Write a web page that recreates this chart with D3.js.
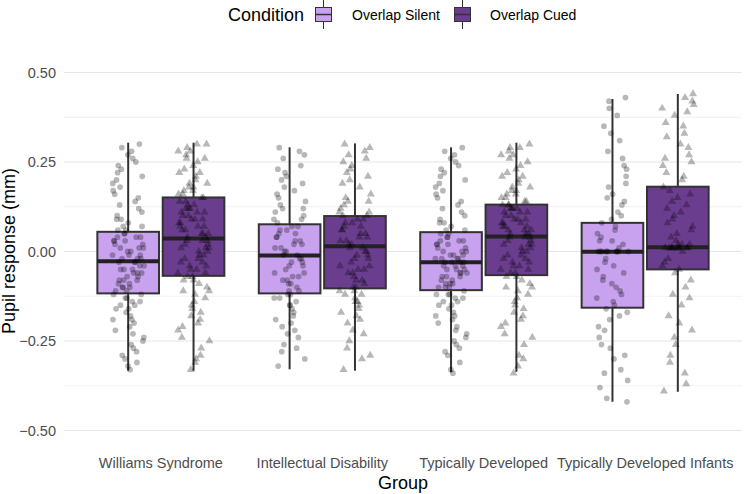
<!DOCTYPE html>
<html lang="en">
<head>
<meta charset="utf-8">
<script src="https://d3js.org/d3.v7.min.js"></script>
<style>
  body { margin: 0; background: #fff; }
  text { font-family: "Liberation Sans", Arial, sans-serif; }
</style>
</head>
<body>
<script>
// groups and conditions
var groups = ["Williams Syndrome", "Intellectual Disability", "Typically Developed", "Typically Developed Infants"];
var conditions = ["Overlap Silent", "Overlap Cued"];
var yTicks = [-0.5, -0.25, 0, 0.25, 0.5];
var yMinor = [-0.375, -0.125, 0.125, 0.375];

// box summaries (per group)
var silentLow    = [-0.333, -0.329, -0.337, -0.420];
var silentQ1     = [-0.117, -0.117, -0.108, -0.157];
var silentMedian = [-0.027, -0.011, -0.030, -0.001];
var silentQ3     = [0.055, 0.076, 0.054, 0.080];
var silentHigh   = [0.304, 0.291, 0.291, 0.426];

var cuedLow    = [-0.333, -0.333, -0.336, -0.392];
var cuedQ1     = [-0.068, -0.103, -0.066, -0.050];
var cuedMedian = [0.036, 0.015, 0.042, 0.012];
var cuedQ3     = [0.151, 0.099, 0.131, 0.181];
var cuedHigh   = [0.304, 0.302, 0.304, 0.440];

// individual observations (estimated)
var wsSilent = [
  -0.02, 0.11, -0.21, 0.04, -0.08, -0.30, 0.19, -0.05, 0.01, -0.14,
  0.27, -0.11, -0.03, 0.07, -0.25, 0.00, -0.09, 0.15, -0.17, 0.03,
  -0.06, 0.23, -0.12, -0.01, 0.09, -0.28, 0.05, -0.04, -0.19, 0.13,
  0.30, -0.07, 0.02, -0.15, -0.10, 0.21, -0.33, 0.06, -0.02, -0.13,
  0.17, -0.23, -0.05, 0.04, 0.08, -0.16, 0.25, -0.08, 0.01, -0.26,
  -0.03, 0.12, -0.11, 0.03, -0.20, 0.29, -0.06, -0.09, 0.10, -0.31,
  0.05, -0.01, -0.14, 0.18, -0.04, 0.00, -0.22, 0.14, -0.10, 0.02,
  -0.18, 0.24, -0.07, 0.06, -0.12, -0.27, 0.09, -0.02, -0.16, 0.20,
  0.04, -0.05, -0.24, 0.28, -0.08, 0.01, -0.13, 0.16, -0.03, -0.29,
  0.07, -0.10, 0.22, -0.06, 0.03, -0.19, 0.26, -0.15, -0.01, -0.32
];
var wsCued = [
  0.04, 0.19, -0.12, 0.10, -0.03, 0.28, -0.22, 0.07, 0.14, -0.06,
  0.24, 0.01, -0.17, 0.12, 0.05, -0.30, 0.17, -0.01, 0.09, 0.22,
  -0.09, 0.03, 0.30, -0.14, 0.06, 0.15, -0.04, -0.25, 0.11, 0.02,
  0.26, -0.07, 0.08, -0.19, 0.13, 0.00, 0.20, -0.11, 0.05, -0.33,
  0.16, -0.02, 0.27, 0.04, -0.08, 0.11, -0.27, 0.18, 0.01, -0.05,
  0.23, 0.07, -0.15, 0.14, -0.01, 0.29, -0.10, 0.09, -0.21, 0.03,
  0.12, -0.06, 0.25, 0.06, -0.13, 0.17, -0.03, -0.29, 0.10, 0.02,
  0.21, -0.08, 0.15, -0.18, 0.08, 0.00, 0.26, -0.04, 0.13, -0.24,
  0.05, 0.19, -0.11, 0.30, -0.02, 0.11, -0.16, 0.07, 0.22, -0.07,
  0.03, -0.31, 0.16, 0.09, -0.05, 0.28, -0.20, 0.12, 0.01, 0.18
];
var idSilent = [
  -0.01, 0.12, -0.20, 0.05, -0.07, 0.21, -0.13, 0.02, -0.28, 0.09,
  -0.04, 0.16, -0.10, 0.00, 0.27, -0.16, 0.06, -0.02, -0.23, 0.11,
  0.03, -0.08, 0.19, -0.12, -0.32, 0.07, -0.05, 0.14, -0.18, 0.01,
  0.24, -0.09, 0.04, -0.14, -0.26, 0.10, -0.03, 0.29, -0.11, 0.06,
  -0.06, 0.17, -0.21, 0.02, -0.15, 0.08, -0.01, 0.22, -0.30, -0.07,
  0.13, 0.03, -0.12, -0.19, 0.05, 0.26, -0.04, -0.09, 0.15, -0.24,
  0.00, 0.09, -0.17, 0.20, -0.02, -0.11, 0.04, -0.27, 0.18, -0.06,
  0.07, -0.13, 0.28, -0.08, 0.01, -0.22, 0.12, -0.03, -0.15, 0.23
];
var idCued = [
  0.02, 0.14, -0.18, 0.07, -0.05, 0.24, -0.11, 0.04, -0.27, 0.10,
  -0.02, 0.19, -0.08, 0.01, 0.29, -0.14, 0.08, 0.00, -0.22, 0.12,
  0.05, -0.06, 0.21, -0.10, -0.33, 0.09, -0.03, 0.16, -0.16, 0.03,
  0.26, -0.07, 0.06, -0.12, -0.25, 0.11, -0.01, 0.30, -0.09, 0.08,
  -0.04, 0.18, -0.20, 0.04, -0.13, 0.10, 0.01, 0.23, -0.29, -0.05,
  0.15, 0.05, -0.10, -0.17, 0.07, 0.27, -0.02, -0.08, 0.13, -0.23,
  0.02, 0.11, -0.15, 0.22, 0.00, -0.11, 0.06, -0.30, 0.20, -0.04,
  0.09, -0.12, 0.28, -0.06, 0.03, -0.19, 0.14, -0.01, -0.14, 0.25
];
var tdSilent = [
  -0.03, 0.10, -0.19, 0.03, -0.07, -0.29, 0.18, -0.04, 0.00, -0.13,
  0.26, -0.10, -0.02, 0.06, -0.24, -0.01, -0.08, 0.14, -0.16, 0.02,
  -0.05, 0.22, -0.11, -0.03, 0.08, -0.27, 0.04, -0.06, -0.18, 0.12,
  0.29, -0.09, 0.01, -0.14, -0.10, 0.20, -0.34, 0.05, -0.03, -0.12,
  0.16, -0.22, -0.04, 0.03, 0.07, -0.15, 0.24, -0.07, 0.00, -0.25,
  -0.02, 0.11, -0.10, 0.02, -0.21, 0.28, -0.05, -0.08, 0.09, -0.31,
  0.04, -0.02, -0.13, 0.17, -0.04, -0.01, -0.20, 0.13, -0.09, 0.01,
  -0.17, 0.23, -0.06, 0.05, -0.12, -0.26, 0.08, -0.03, -0.15, 0.19,
  0.03, -0.05, -0.23, 0.27, -0.07, 0.00, -0.12, 0.15, -0.02, -0.28,
  0.06, -0.09, 0.21, -0.06, 0.02, -0.18, 0.25, -0.14, -0.01, -0.33
];
var tdCued = [
  0.05, 0.18, -0.11, 0.10, -0.02, 0.27, -0.21, 0.08, 0.13, -0.05,
  0.23, 0.02, -0.16, 0.12, 0.06, -0.29, 0.16, 0.00, 0.09, 0.21,
  -0.08, 0.04, 0.30, -0.13, 0.07, 0.14, -0.03, -0.24, 0.11, 0.03,
  0.25, -0.06, 0.08, -0.18, 0.12, 0.01, 0.19, -0.10, 0.05, -0.34,
  0.15, -0.01, 0.28, 0.05, -0.07, 0.11, -0.26, 0.17, 0.02, -0.04,
  0.22, 0.07, -0.14, 0.13, 0.00, 0.29, -0.09, 0.09, -0.20, 0.04,
  0.12, -0.05, 0.24, 0.06, -0.12, 0.16, -0.02, -0.30, 0.10, 0.03,
  0.20, -0.07, 0.14, -0.17, 0.08, 0.01, 0.26, -0.03, 0.12, -0.23,
  0.06, 0.18, -0.10, 0.29, -0.01, 0.11, -0.15, 0.07, 0.21, -0.06,
  0.04, -0.32, 0.15, 0.09, -0.04, 0.27, -0.19, 0.13, 0.02, 0.17
];
var tdiSilent = [
  0.00, 0.21, -0.30, 0.08, -0.12, 0.40, -0.05, 0.00, -0.22, 0.14,
  0.03, -0.38, 0.31, 0.00, -0.17, 0.06, -0.08, 0.26, -0.27, 0.00,
  0.11, -0.02, 0.43, -0.14, 0.04, -0.33, 0.18, 0.00, -0.10, 0.35,
  -0.06, 0.09, -0.24, 0.01, -0.41, 0.23, -0.15, 0.00, 0.13, -0.19,
  0.05, 0.38, -0.03, -0.29, 0.16, 0.00, -0.11, 0.28, -0.36, 0.07,
  -0.07, 0.02, 0.33, -0.21, 0.00, -0.16, 0.19, -0.04, -0.26, 0.10,
  0.42, -0.13, 0.00, -0.34, 0.24, -0.09, 0.03, -0.18, 0.15, -0.42
];
var tdiCued = [
  0.01, 0.25, -0.20, 0.12, 0.01, 0.38, -0.04, 0.20, -0.31, 0.02,
  0.15, 0.01, 0.43, -0.12, 0.07, 0.30, -0.02, 0.01, -0.26, 0.18,
  0.35, 0.04, -0.08, 0.01, 0.22, -0.37, 0.10, 0.41, -0.15, 0.01,
  0.27, 0.05, -0.03, 0.33, 0.14, -0.22, 0.01, 0.08, 0.39, -0.06,
  0.24, 0.00, -0.29, 0.16, 0.02, 0.36, -0.10, 0.01, 0.44, 0.11,
  -0.18, 0.29, 0.03, -0.39, 0.21, 0.01, 0.06, -0.05, 0.32, 0.13,
  -0.24, 0.40, 0.02, 0.17, -0.13, 0.01, 0.26, -0.34, 0.09, 0.42
];

var silentPoints = [wsSilent, idSilent, tdSilent, tdiSilent];
var cuedPoints = [wsCued, idCued, tdCued, tdiCued];

var width = 744, height = 494;
var left = 64, right = 742;
var colors = { "Overlap Silent": "#c8a2ef", "Overlap Cued": "#6b3d8f" };

var svg = d3.select("body").append("svg")
  .attr("width", width).attr("height", height);

var x = d3.scaleBand().domain(groups).range([left, right]).paddingOuter(0.1).paddingInner(0);
var sub = d3.scaleBand().domain(conditions).range([-63.5, 63.5]).paddingInner(0.057).paddingOuter(0);
var y = d3.scaleLinear().domain([-0.5, 0.5]).range([430.5, 72.5]);

// grid
svg.append("g").selectAll("line").data(yMinor).join("line")
  .attr("x1", left).attr("x2", right)
  .attr("y1", function (d) { return y(d); }).attr("y2", function (d) { return y(d); })
  .attr("stroke", "#ececec").attr("stroke-width", 0.7);
svg.append("g").selectAll("line").data(yTicks).join("line")
  .attr("x1", left).attr("x2", right)
  .attr("y1", function (d) { return y(d); }).attr("y2", function (d) { return y(d); })
  .attr("stroke", "#e6e6e6").attr("stroke-width", 1.2);

// y axis (labels only)
var yAxis = svg.append("g").attr("transform", "translate(" + (left - 5) + ",0)")
  .call(d3.axisLeft(y).tickValues(yTicks).tickSize(0).tickPadding(3).tickFormat(d3.format(".2f")));
yAxis.select(".domain").remove();
yAxis.selectAll("text").attr("font-size", "14.5px").attr("fill", "#4d4d4d")
  .style("font-family", "'Liberation Sans', Arial, sans-serif");

// x axis (labels only)
var xAxis = svg.append("g").attr("transform", "translate(0,454)")
  .call(d3.axisBottom(x).tickSize(0).tickPadding(4));
xAxis.select(".domain").remove();
xAxis.selectAll("text").attr("font-size", "14.5px").attr("fill", "#4d4d4d")
  .style("font-family", "'Liberation Sans', Arial, sans-serif");

svg.append("text").attr("x", (left + right) / 2).attr("y", 489)
  .attr("text-anchor", "middle").attr("font-size", "18px").attr("fill", "#000").text("Group");
svg.append("text").attr("transform", "translate(15,251) rotate(-90)")
  .attr("text-anchor", "middle").attr("font-size", "18px").attr("fill", "#000").text("Pupil response (mm)");

// boxes
var stats = {
  "Overlap Silent": { lo: silentLow, q1: silentQ1, med: silentMedian, q3: silentQ3, hi: silentHigh, pts: silentPoints },
  "Overlap Cued": { lo: cuedLow, q1: cuedQ1, med: cuedMedian, q3: cuedQ3, hi: cuedHigh, pts: cuedPoints }
};
var boxes = [];
groups.forEach(function (g, i) {
  conditions.forEach(function (c) {
    var s = stats[c];
    boxes.push({ group: g, cond: c, lo: s.lo[i], q1: s.q1[i], med: s.med[i], q3: s.q3[i], hi: s.hi[i], pts: s.pts[i] });
  });
});

function cx(d) { return x(d.group) + x.bandwidth() / 2 + sub(d.cond) + sub.bandwidth() / 2; }

var bg = svg.append("g").selectAll("g").data(boxes).join("g");
bg.append("line")
  .attr("x1", cx).attr("x2", cx)
  .attr("y1", function (d) { return y(d.hi); }).attr("y2", function (d) { return y(d.lo); })
  .attr("stroke", "#333").attr("stroke-width", 2);
bg.append("rect")
  .attr("x", function (d) { return cx(d) - sub.bandwidth() / 2; })
  .attr("width", sub.bandwidth())
  .attr("y", function (d) { return y(d.q3); })
  .attr("height", function (d) { return y(d.q1) - y(d.q3); })
  .attr("fill", function (d) { return colors[d.cond]; })
  .attr("stroke", "#333").attr("stroke-width", 2);
bg.append("line")
  .attr("x1", function (d) { return cx(d) - sub.bandwidth() / 2; })
  .attr("x2", function (d) { return cx(d) + sub.bandwidth() / 2; })
  .attr("y1", function (d) { return y(d.med); }).attr("y2", function (d) { return y(d.med); })
  .attr("stroke", "#222").attr("stroke-width", 4);

// jittered points (deterministic offsets)
var jw = 16;
var circle = d3.symbol().type(d3.symbolCircle).size(26);
var tri = d3.symbol().type(d3.symbolTriangle).size(28);
boxes.forEach(function (b) {
  svg.append("g").selectAll("path").data(b.pts).join("path")
    .attr("d", b.cond === "Overlap Silent" ? circle : tri)
    .attr("transform", function (v, i) {
      var off = (((i * 0.6180339887) + 0.31) % 1 - 0.5) * 2 * jw;
      return "translate(" + (cx(b) + off) + "," + y(v) + ")";
    })
    .attr("fill", "#000").attr("fill-opacity", 0.28);
});

// legend
var lg = svg.append("g");
lg.append("text").attr("x", 228).attr("y", 21).attr("font-size", "18px").text("Condition");
var keyX = [315, 454], labX = [352, 490];
conditions.forEach(function (c, i) {
  var k = lg.append("g").attr("transform", "translate(" + keyX[i] + ",0)");
  k.append("line").attr("x1", 8.5).attr("x2", 8.5).attr("y1", 0).attr("y2", 29)
    .attr("stroke", "#333").attr("stroke-width", 1);
  k.append("rect").attr("x", 0.5).attr("y", 7.5).attr("width", 16).attr("height", 14)
    .attr("fill", colors[c]).attr("stroke", "#333").attr("stroke-width", 1);
  k.append("line").attr("x1", 0.5).attr("x2", 16.5).attr("y1", 14.5).attr("y2", 14.5)
    .attr("stroke", "#333").attr("stroke-width", 1.5);
  lg.append("text").attr("x", labX[i]).attr("y", 20).attr("font-size", "14px").text(c);
});
</script>
</body>
</html>
